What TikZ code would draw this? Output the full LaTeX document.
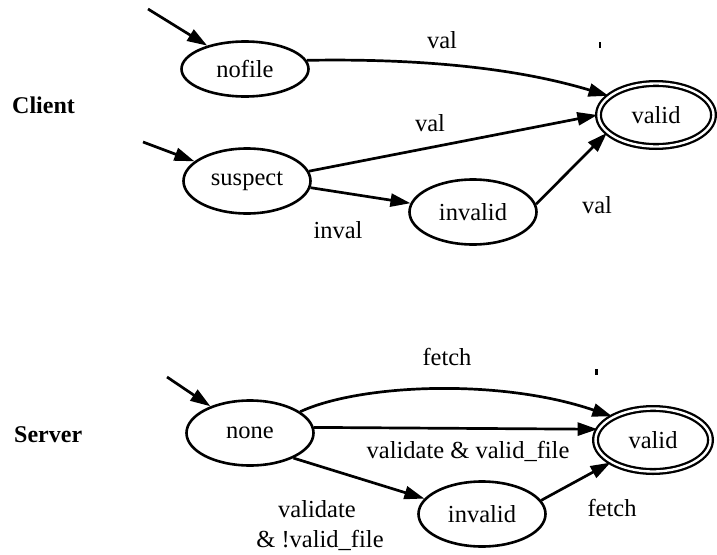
\documentclass[tikz,border=0pt]{standalone}
\usepackage{fontspec}
\setmainfont{Liberation Serif}
\usetikzlibrary{shapes.geometric,arrows.meta}
\begin{document}
\begin{tikzpicture}[x=1pt,y=-1pt,
  every node/.style={font=\fontsize{24.5}{28}\selectfont},
  state/.style={ellipse,draw,line width=2.6pt,minimum width=127pt,minimum height=65pt,inner sep=0pt},
  accept/.style={ellipse,draw,double,line width=2.3pt,double distance=2.4pt,minimum width=115pt,minimum height=63pt,inner sep=0pt},
  arr/.style={line width=2.7pt,-{Triangle[length=20pt,width=13pt]}},
  lbl/.style={inner sep=0pt},
  grp/.style={inner sep=0pt,anchor=west,font=\fontsize{24}{28}\selectfont\bfseries}]
\useasboundingbox (0,0) rectangle (717,554);
% groups
\node[grp] (client) at (12,105) {Client};
\node[grp] (server) at (14,435) {Server};
% client states
\node[state,minimum height=55pt] (nofile) at (245,69) {nofile};
\node[state] (suspect) at (247,181) {suspect};
\node[state] (cinvalid) at (473,212) {invalid};
\node[accept] (cvalid) at (656,115) {valid};
% server states
\node[state] (none) at (250,433) {none};
\node[state] (sinvalid) at (482,514) {invalid};
\node[accept] (svalid) at (653,440) {valid};
% start coordinates
\coordinate (sA) at (148,9);
\coordinate (sB) at (143,142);
\coordinate (sC) at (167,377);
\draw[arr] (sA) -- (nofile);
\draw[arr] (sB) -- (suspect);
\draw[arr] (sC) -- (none);
% client transitions
\draw[arr] (nofile.8) .. controls (440,58) and (530,72) .. (cvalid.158);
\draw[arr] (suspect.9) -- (cvalid.180);
\draw[arr] (suspect.-6) -- (cinvalid.172);
\draw[arr] (cinvalid.7) -- (cvalid.200);
% server transitions
\draw[arr] (none.23) .. controls (360,384) and (500,378) .. (svalid.150);
\draw[arr] (none.5) -- (svalid.169);
\draw[arr] (none.-30) -- (sinvalid.165);
\draw[arr] (sinvalid.13) -- (svalid.208);
% labels
\node[lbl] (l1) at (442,40) {val};
\node[lbl] (l2) at (430,123) {val};
\node[lbl] (l3) at (338,230) {inval};
\node[lbl] (l4) at (597,205) {val};
\node[lbl] (l5) at (447,357) {fetch};
\node[lbl] (l6) at (468,451) {validate \& valid\_file};
\node[lbl] (l7) at (317,509) {validate};
\node[lbl] (l8) at (320,540) {\& !valid\_file};
\node[lbl] (l9) at (612,508) {fetch};
% specks
\fill (599,42) rectangle (601,48);
\fill (595,369) rectangle (598,375);
\end{tikzpicture}
\end{document}
